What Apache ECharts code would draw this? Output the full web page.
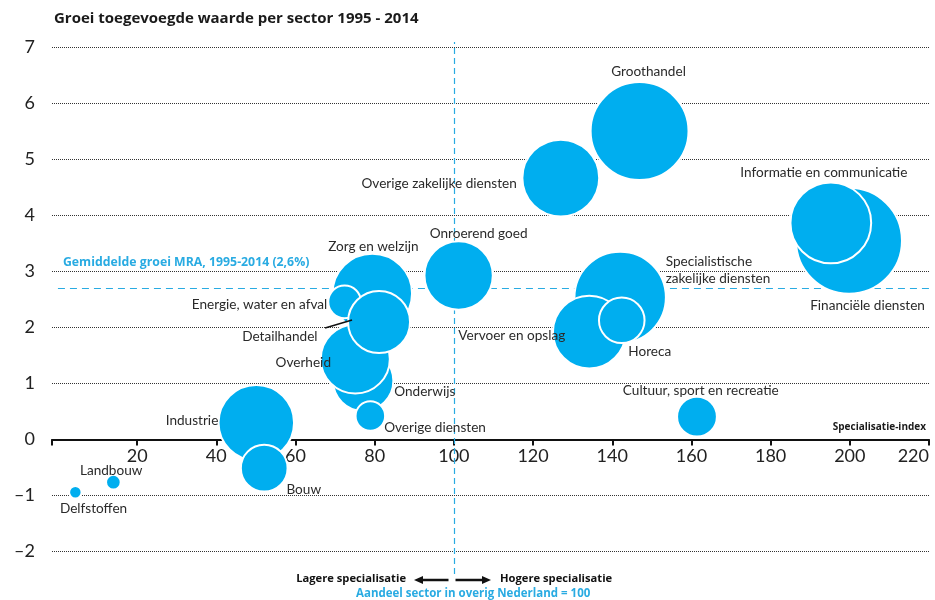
<!DOCTYPE html>
<html>
<head>
<meta charset="utf-8">
<script src="https://cdn.jsdelivr.net/npm/echarts@6/dist/echarts.min.js"></script>
<style>html,body{margin:0;padding:0;background:#fff}#c{width:935px;height:600px}</style>
</head>
<body>
<div id="c"></div>
<script>
// ---- data ----
const sectors = [
  'Specialistische\nzakelijke diensten', 'Vervoer en opslag', 'Horeca',
  'Financiële diensten', 'Informatie en communicatie', 'Groothandel',
  'Overige zakelijke diensten', 'Onroerend goed', 'Zorg en welzijn',
  'Energie, water en afval', 'Onderwijs', 'Overheid', 'Detailhandel',
  'Overige diensten', 'Industrie', 'Bouw', 'Cultuur, sport en recreatie',
  'Landbouw', 'Delfstoffen'
];
// specialisatie-index (x)
const specIndex = [142.0, 134.2, 142.4, 199.8, 195.2, 146.9, 127.0, 101.2, 79.4, 72.4, 77.1, 75.1, 81.1, 78.9, 50.1, 52.1, 161.4, 14.0, 4.4];
// groei toegevoegde waarde 1995-2014 (y, %)
const growth = [2.54, 1.92, 2.13, 3.55, 3.87, 5.51, 4.67, 2.93, 2.61, 2.46, 1.05, 1.44, 2.10, 0.42, 0.30, -0.51, 0.41, -0.76, -0.94];
// omvang sector (bubble area, relative)
const omvang = [80, 50, 19, 108, 62, 92, 56, 44, 60, 9.4, 34, 45, 36, 7.6, 54, 20, 14.3, 1.6, 1.1];

const yTickValues = [-2, -1, 0, 1, 2, 3, 4, 5, 6, 7];
const xTickValues = [20, 40, 60, 80, 100, 120, 140, 160, 180, 200, 220];
const gridValues = [-2, -1, 1, 2, 3, 4, 5, 6, 7];
const mraAverage = 2.7;
const referenceIndex = 100;

// ---- label placement (pixel offsets from bubble centre) ----
const labelPlacement = {
  'Specialistische\nzakelijke diensten': ['left', 45.5, -27.5],
  'Vervoer en opslag': ['right', -24, 4],
  'Horeca': ['center', 28, 31],
  'Financiële diensten': ['center', 18.5, 64.5],
  'Informatie en communicatie': ['center', -7, -50.6],
  'Groothandel': ['center', 9, -59],
  'Overige zakelijke diensten': ['right', -44, 5.5],
  'Onroerend goed': ['center', 20, -42],
  'Zorg en welzijn': ['center', 1, -46.5],
  'Energie, water en afval': ['right', -17.3, 2.3],
  'Onderwijs': ['left', 31, 10.7],
  'Overheid': ['right', -24.3, 3.8],
  'Detailhandel': ['right', -61.5, 14.2],
  'Overige diensten': ['left', 13.8, 12],
  'Industrie': ['right', -38, -1.7],
  'Bouw': ['left', 22.2, 21.7],
  'Cultuur, sport en recreatie': ['center', 3.8, -26.2],
  'Landbouw': ['center', -2.2, -11.6],
  'Delfstoffen': ['center', 18.2, 16.6]
};

const FONT = 'Lato, "Noto Sans", sans-serif';
const BOLDFONT = '"Open Sans", Lato, sans-serif';
const BLUE = '#00aeef';
const LINEBLUE = '#29abe2';
const TEXT = '#2a2a2a';

// layout of the plot area
const GRID = {left: 52, right: 6, top: 42, bottom: 26};
const Y_MIN = -2.4, Y_MAX = 7.1, X_MIN = -1.5, X_MAX = 220;
const plotHeight = 600 - GRID.top - GRID.bottom;
// move the x axis from the bottom of the plot up to y = 0
const zeroFromBottom = plotHeight * (0 - Y_MIN) / (Y_MAX - Y_MIN);

const chart = echarts.init(document.getElementById('c'), null, {renderer: 'canvas'});

const bubbleData = sectors.map((name, i) => {
  const p = labelPlacement[name];
  return {
    name: name,
    value: [specIndex[i], growth[i], omvang[i]],
    label: {align: p[0], offset: [p[1], p[2]]}
  };
});

const markData = gridValues.map(v => ({
  yAxis: v,
  lineStyle: {type: 'dotted', color: '#333', width: 1},
  label: {show: false}
}));
markData.push({
  xAxis: referenceIndex,
  lineStyle: {type: [6, 4], color: LINEBLUE, width: 1.2},
  label: {show: false}
});
markData.push([
  {
    coord: [0, mraAverage],
    lineStyle: {type: [7, 5], color: LINEBLUE, width: 1.2},
    label: {
      show: true, position: 'insideStartTop', distance: [5, 20],
      formatter: 'Gemiddelde groei MRA, 1995-2014 (2,6%)',
      color: LINEBLUE, fontFamily: BOLDFONT, fontSize: 12.3, fontWeight: 'bold'
    }
  },
  {coord: [X_MAX, mraAverage]}
]);

const graphics = [
  {id: 'lager', type: 'text', x: 406, y: 579, style: {text: 'Lagere specialisatie', align: 'right', verticalAlign: 'middle',
    font: 'bold 11.2px ' + BOLDFONT, fill: '#111'}},
  {id: 'hoger', type: 'text', x: 500, y: 579, style: {text: 'Hogere specialisatie', align: 'left', verticalAlign: 'middle',
    font: 'bold 11.2px ' + BOLDFONT, fill: '#111'}},
  {id: 'arrL', type: 'line', shape: {x1: 448.5, y1: 580, x2: 420, y2: 580}, style: {stroke: '#111', lineWidth: 2.5}},
  {id: 'headL', type: 'polygon', shape: {points: [[414, 580], [423, 576], [423, 584]]}, style: {fill: '#111'}},
  {id: 'arrR', type: 'line', shape: {x1: 455.5, y1: 580, x2: 485, y2: 580}, style: {stroke: '#111', lineWidth: 2.5}},
  {id: 'headR', type: 'polygon', shape: {points: [[491, 580], [482, 576], [482, 584]]}, style: {fill: '#111'}},
  {id: 'aandeel', type: 'text', x: 356, y: 593.5, style: {text: 'Aandeel sector in overig Nederland = 100', align: 'left', verticalAlign: 'middle',
    font: 'bold 11.5px ' + BOLDFONT, fill: LINEBLUE}}
];

const option = {
  animation: false,
  backgroundColor: '#fff',
  title: {
    text: 'Groei toegevoegde waarde per sector 1995 - 2014',
    left: 54, top: 11, padding: 0,
    textStyle: {fontFamily: BOLDFONT, fontSize: 15, fontWeight: 'bold', color: '#1a1a1a'}
  },
  grid: Object.assign({containLabel: false, outerBoundsMode: 'none'}, GRID),
  xAxis: {
    type: 'value', min: X_MIN, max: X_MAX,
    position: 'bottom', offset: -zeroFromBottom,
    name: 'Specialisatie-index', nameLocation: 'end', nameGap: -3,
    nameTextStyle: {fontFamily: BOLDFONT, fontSize: 10, fontWeight: 'bold', color: '#1a1a1a',
      align: 'right', verticalAlign: 'bottom', padding: [0, 0, 7, 0]},
    axisLine: {show: true, onZero: false, lineStyle: {color: '#111', width: 2}},
    axisTick: {show: true, length: 6, customValues: [X_MIN].concat(xTickValues), lineStyle: {color: '#111', width: 2}},
    axisLabel: {customValues: xTickValues, fontFamily: FONT, fontSize: 18, color: '#222', margin: 8, alignMaxLabel: 'right'},
    splitLine: {show: false}
  },
  yAxis: {
    type: 'value', min: Y_MIN, max: Y_MAX,
    axisLine: {show: false}, axisTick: {show: false}, splitLine: {show: false},
    axisLabel: {
      customValues: yTickValues, fontFamily: FONT, fontSize: 18, color: '#222', margin: 17,
      formatter: v => (v < 0 ? '\u2013' + Math.abs(v) : String(v))
    }
  },
  series: [{
    type: 'scatter',
    z: 2,
    data: bubbleData,
    symbol: 'circle',
    symbolSize: v => Math.sqrt(v[2]) * 10 + 2,
    itemStyle: {color: BLUE, borderColor: '#fff', borderWidth: 2, opacity: 1},
    label: {
      show: true, position: 'inside', formatter: '{b}', color: TEXT,
      fontFamily: FONT, fontSize: 13.6, lineHeight: 16.5, verticalAlign: 'middle',
      textBorderWidth: 0
    },
    emphasis: {disabled: true},
    markLine: {
      z: 1, silent: true, symbol: 'none', animation: false,
      data: markData
    }
  }],
  graphic: graphics
};
chart.setOption(option);

// leader line from the "Detailhandel" label to its bubble, anchored on the bubble's data position
const di = sectors.indexOf('Detailhandel');
const dp = chart.convertToPixel({seriesIndex: 0}, [specIndex[di], growth[di]]);
chart.setOption({
  graphic: graphics.concat([{
    id: 'leader', type: 'line', z: 3,
    shape: {x1: dp[0] - 54, y1: dp[1] + 6, x2: dp[0] - 27, y2: dp[1] - 2},
    style: {stroke: '#111', lineWidth: 1.5}
  }])
});

// safety: make sure the x axis line at y = 0 is painted
try {
  const cv = chart.getDom().querySelector('canvas');
  const ctx = cv.getContext('2d');
  const zp = chart.convertToPixel({xAxisIndex: 0, yAxisIndex: 0}, [30, 0]);
  let dark = false;
  for (let dy = -1; dy <= 1; dy++) {
    const d = ctx.getImageData(Math.round(zp[0]), Math.round(zp[1]) + dy, 1, 1).data;
    if (d[0] < 90 && d[3] > 200) dark = true;
  }
  if (!dark) {
    chart.setOption({series: [{markLine: {data: markData.concat([{
      yAxis: 0, lineStyle: {type: 'solid', color: '#111', width: 2}, label: {show: false}
    }])}}]});
  }
} catch (e) {}
</script>
</body>
</html>
